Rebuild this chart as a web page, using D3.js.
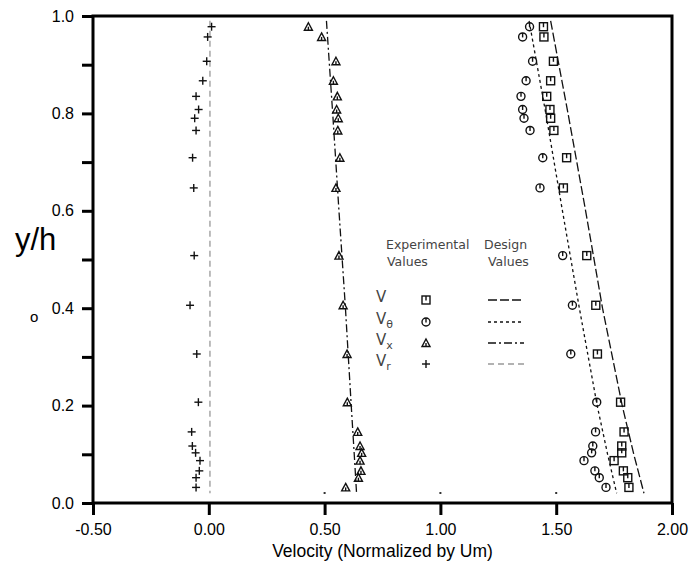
<!DOCTYPE html>
<html>
<head>
<meta charset="utf-8">
<script src="https://cdn.jsdelivr.net/npm/d3@7"></script>
<style>
  body { margin: 0; background: #fff; }
  svg { display: block; font-family: 'Liberation Sans', Arial, sans-serif; }
</style>
</head>
<body>
<div id="chart"></div>
<script>
// measurement stations (y/h), shared by all four experimental series
let stations = [0.978, 0.957, 0.907, 0.867, 0.835, 0.808, 0.790, 0.765, 0.709, 0.647,
                0.508, 0.406, 0.306, 0.207, 0.146, 0.117, 0.103, 0.087, 0.066, 0.052, 0.032];
let expV  = [1.445, 1.447, 1.488, 1.476, 1.459, 1.473, 1.476, 1.490, 1.545, 1.531,
             1.632, 1.671, 1.678, 1.778, 1.793, 1.783, 1.783, 1.750, 1.790, 1.809, 1.814];
let expVt = [1.385, 1.355, 1.398, 1.370, 1.348, 1.355, 1.361, 1.387, 1.442, 1.430,
             1.528, 1.570, 1.563, 1.675, 1.670, 1.658, 1.653, 1.620, 1.667, 1.686, 1.715];
let expVx = [0.430, 0.487, 0.549, 0.538, 0.555, 0.552, 0.559, 0.557, 0.566, 0.549,
             0.562, 0.580, 0.597, 0.598, 0.643, 0.653, 0.660, 0.653, 0.657, 0.646, 0.591];
let expVr = [0.012, -0.005, -0.009, -0.026, -0.055, -0.044, -0.061, -0.055, -0.070, -0.065,
             -0.063, -0.081, -0.052, -0.045, -0.074, -0.071, -0.057, -0.038, -0.041, -0.055, -0.055];

// design curves
let designY  = [0.99, 0.8, 0.6, 0.4, 0.2, 0.1, 0.02];
let designV  = [1.476, 1.551, 1.627, 1.700, 1.785, 1.835, 1.879];
let designVt = [1.383, 1.455, 1.527, 1.600, 1.677, 1.722, 1.761];
let designVx = [0.508, 0.535, 0.562, 0.590, 0.615, 0.628, 0.638];
let designVr = [0.005, 0.005, 0.005, 0.005, 0.005, 0.005, 0.005];

let xTicks = [-0.5, 0, 0.5, 1.0, 1.5, 2.0];
let yTicks = [0, 0.1, 0.2, 0.3, 0.4, 0.5, 0.6, 0.7, 0.8, 0.9, 1.0];
let yLabels = [0, 0.2, 0.4, 0.6, 0.8, 1.0];

let w = 700, h = 564;
let mLeft = 93, mRight = 672, mTop = 16, mBottom = 503;

let xScale = d3.scaleLinear().domain([-0.5, 2.0]).range([mLeft, mRight]);
let yScale = d3.scaleLinear().domain([0, 1]).range([mBottom, mTop]);

let svg = d3.select('#chart').append('svg')
            .attr('width', w)
            .attr('height', h);

let series = [
  { exp: expV,  des: designV,  mark: 'square',   dash: '9,3',     col: '#111' },
  { exp: expVt, des: designVt, mark: 'circle',   dash: '3,3',     col: '#111' },
  { exp: expVx, des: designVx, mark: 'triangle', dash: '8,3,2,3', col: '#111' },
  { exp: expVr, des: designVr, mark: 'plus',     dash: '6,4',     col: '#999' }
];

let line = d3.line()
             .x((d) => xScale(d[0]))
             .y((d) => yScale(d[1]));

// design lines
series.forEach((s) => {
  svg.append('path')
     .datum(s.des.map((v, i) => [v, designY[i]]))
     .attr('d', line)
     .attr('fill', 'none')
     .attr('stroke', s.col)
     .attr('stroke-width', 1.3)
     .attr('stroke-dasharray', s.dash);
});

// marker glyphs
const drawMark = (g, type) => {
  g.attr('fill', 'none').attr('stroke', '#111').attr('stroke-width', 1.4);
  if (type === 'square') {
    g.append('rect').attr('x', -4).attr('y', -4).attr('width', 8).attr('height', 8);
    g.append('line').attr('x1', 0).attr('y1', -4).attr('x2', 0).attr('y2', 0.5);
  } else if (type === 'circle') {
    g.append('circle').attr('r', 4);
    g.append('line').attr('x1', 0).attr('y1', -4).attr('x2', 0).attr('y2', 0.5);
  } else if (type === 'triangle') {
    g.append('path').attr('d', 'M0,-4L4,3.5L-4,3.5Z');
    g.append('line').attr('x1', 0).attr('y1', 0).attr('x2', 0).attr('y2', 3.5);
  } else {
    g.append('line').attr('x1', -4).attr('y1', 0).attr('x2', 4).attr('y2', 0);
    g.append('line').attr('x1', 0).attr('y1', -4).attr('x2', 0).attr('y2', 4);
  }
};

series.forEach((s) => {
  svg.append('g').selectAll('g')
     .data(s.exp.map((v, i) => [v, stations[i]]))
     .enter()
     .append('g')
     .attr('transform', (d) => 'translate(' + xScale(d[0]) + ',' + yScale(d[1]) + ')')
     .each(function() { drawMark(d3.select(this), s.mark); });
});

// axes
let xAxis = d3.axisBottom(xScale).tickValues(xTicks)
              .tickFormat((d) => d3.format('.2f')(d).replace('\u2212', '-'))
              .tickSize(12).tickPadding(9);
let yAxis = d3.axisLeft(yScale).tickValues(yTicks)
              .tickFormat((d) => yLabels.some((t) => Math.abs(t - d) < 1e-9) ? d3.format('.1f')(d) : '')
              .tickSize(11).tickPadding(8);

let gx = svg.append('g').attr('transform', 'translate(0,' + mBottom + ')').call(xAxis);
let gy = svg.append('g').attr('transform', 'translate(' + mLeft + ',0)').call(yAxis);
[gx, gy].forEach((g) => {
  g.select('.domain').remove();
  g.selectAll('line').attr('stroke', '#000').attr('stroke-width', 3);
  g.selectAll('text').attr('fill', '#000').style('font-size', '16px')
   .style('font-family', "'Liberation Sans', Arial, sans-serif");
});

// small inner marks on bottom axis
svg.append('g').selectAll('line')
   .data([0.5, 1.0, 1.5])
   .enter()
   .append('line')
   .attr('x1', (d) => xScale(d)).attr('x2', (d) => xScale(d))
   .attr('y1', mBottom - 11).attr('y2', mBottom - 9)
   .attr('stroke', '#333').attr('stroke-width', 2);

// frame
svg.append('rect')
   .attr('x', mLeft).attr('y', mTop)
   .attr('width', mRight - mLeft).attr('height', mBottom - mTop)
   .attr('fill', 'none').attr('stroke', '#000').attr('stroke-width', 3);

// axis titles
svg.append('text')
   .attr('x', (mLeft + mRight) / 2).attr('y', 557)
   .attr('text-anchor', 'middle')
   .style('font-size', '17.5px')
   .text('Velocity (Normalized by Um)');
svg.append('text')
   .attr('x', 15).attr('y', 250)
   .style('font-size', '31px')
   .text('y/h');
svg.append('text')
   .attr('x', 30).attr('y', 322)
   .style('font-size', '15px')
   .text('o');

// legend
let leg = svg.append('g')
             .style('font-family', "'DejaVu Sans', sans-serif")
             .style('font-size', '12.5px')
             .attr('fill', '#444');
leg.append('text').attr('x', 386).attr('y', 249).text('Experimental');
leg.append('text').attr('x', 387).attr('y', 266).text('Values');
leg.append('text').attr('x', 484).attr('y', 249).text('Design');
leg.append('text').attr('x', 488).attr('y', 266).text('Values');

let legRows = [
  { y: 300, label: 'V', sub: '' },
  { y: 322, label: 'V', sub: 'θ' },
  { y: 343, label: 'V', sub: 'x' },
  { y: 364, label: 'V', sub: 'r' }
];
legRows.forEach((r, i) => {
  let t = leg.append('text').attr('x', 376).attr('y', r.y + 2).style('font-size', '15px');
  t.append('tspan').text(r.label);
  if (r.sub) t.append('tspan').attr('dy', 4).style('font-size', '11px').text(r.sub);
  let m = leg.append('g').attr('transform', 'translate(426,' + r.y + ')');
  drawMark(m, series[i].mark);
  leg.append('line')
     .attr('x1', 488).attr('x2', 524)
     .attr('y1', r.y).attr('y2', r.y)
     .attr('stroke', series[i].col)
     .attr('stroke-width', 1.3)
     .attr('stroke-dasharray', series[i].dash);
});
</script>
</body>
</html>
